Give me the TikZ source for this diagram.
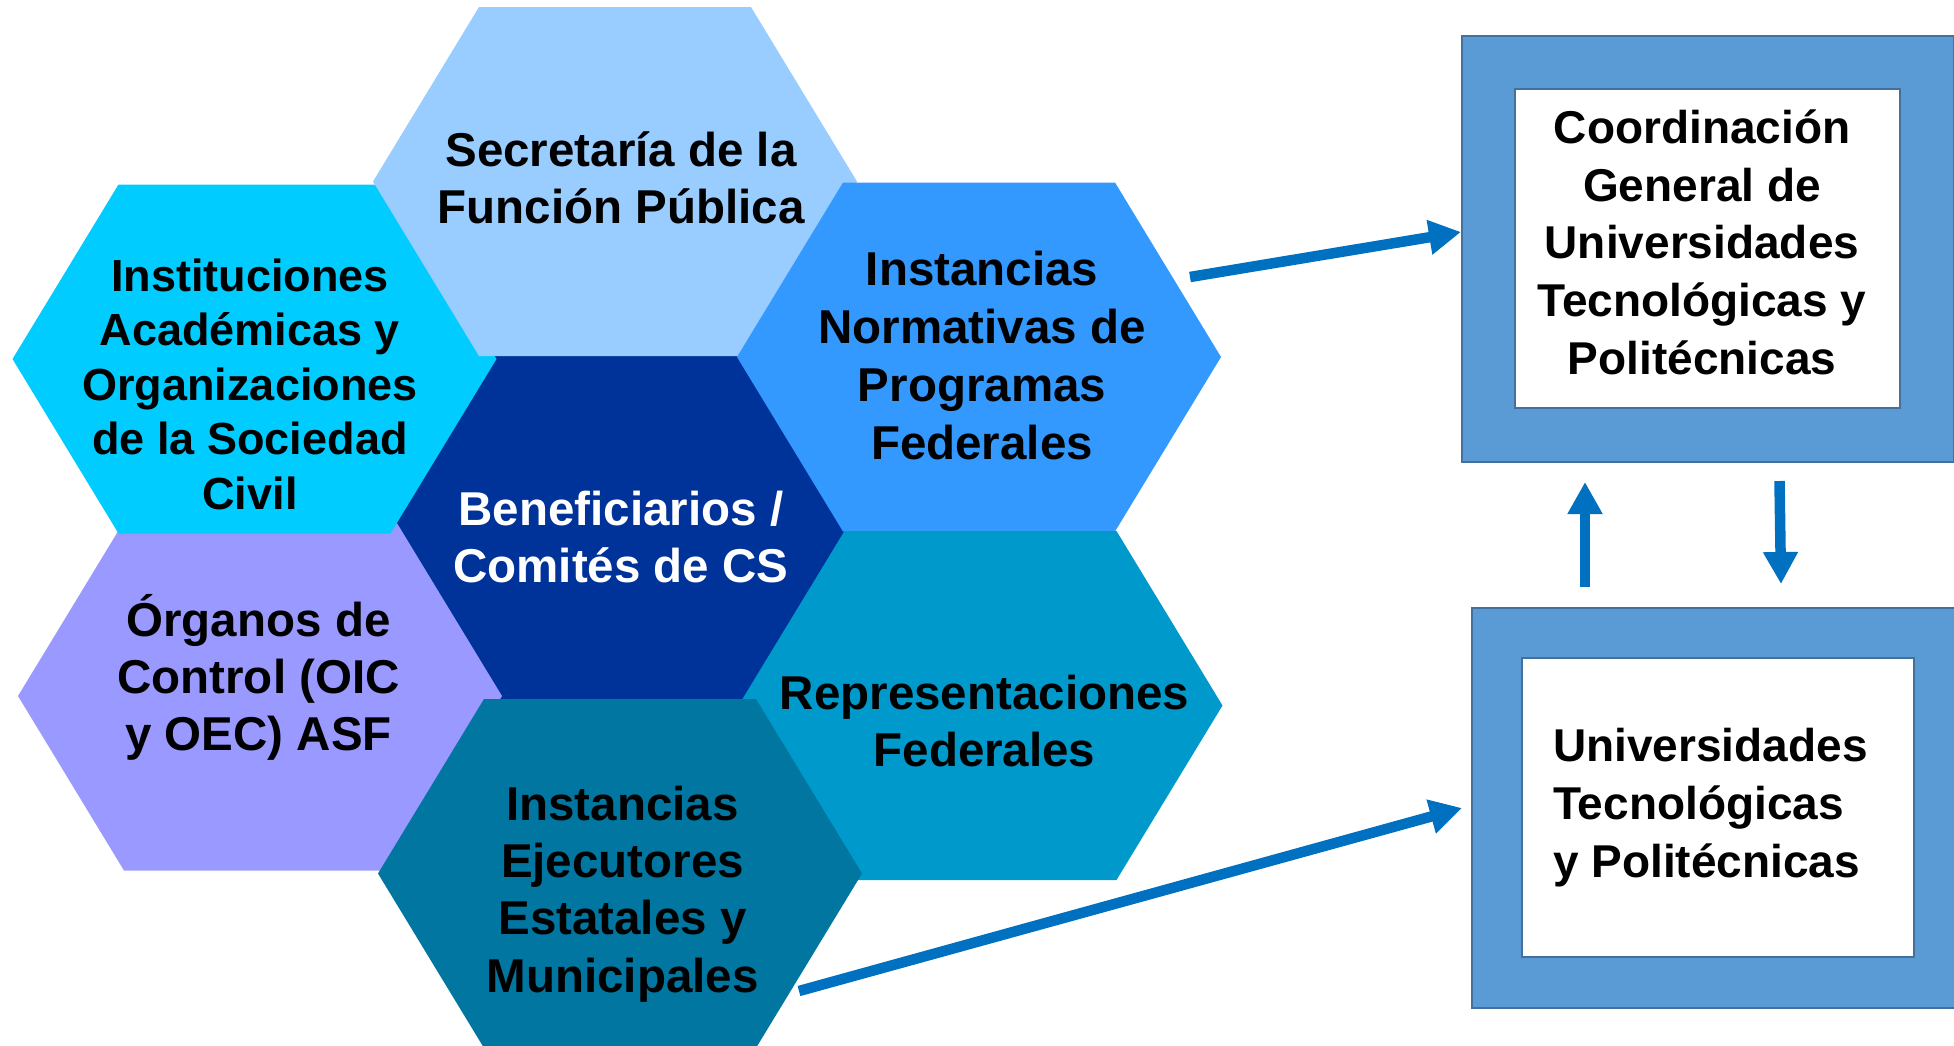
\documentclass[tikz,border=0pt]{standalone}
\usepackage{fontspec}
\setmainfont{Liberation Sans}
\usetikzlibrary{arrows.meta}
\definecolor{csfp}{HTML}{99CCFF}
\definecolor{cinst}{HTML}{00CCFF}
\definecolor{cnorm}{HTML}{3399FF}
\definecolor{cbene}{HTML}{003399}
\definecolor{corg}{HTML}{9999FF}
\definecolor{crep}{HTML}{0099CC}
\definecolor{ceje}{HTML}{0076A0}
\definecolor{cbox}{HTML}{5B9BD5}
\definecolor{cbord}{HTML}{41719C}
\definecolor{carrow}{HTML}{0070C0}
\tikzset{
  hexa/.pic={\path[pic actions] (-242,0) -- (-136,-174.5) -- (136,-174.5) -- (242,0) -- (136,174.5) -- (-136,174.5) -- cycle;},
  hextxt/.style={anchor=base, align=center, inner sep=0pt, font=\fontsize{47.5pt}{57pt}\selectfont\bfseries},
  boxtxt/.style={inner sep=0pt, font=\fontsize{46pt}{57.6pt}\selectfont\bfseries},
  arr/.style={draw=carrow, line width=10.5pt, -{Triangle[length=32pt,width=33pt]}},
  outerbox/.style={draw=cbord, fill=cbox, line width=2pt, inner sep=0pt, anchor=north west},
  innerbox/.style={draw=cbord, fill=white, line width=1.5pt, inner sep=0pt, anchor=north west},
}
\begin{document}
\begin{tikzpicture}[x=1pt,y=-1pt]
\useasboundingbox (0,0) rectangle (1954,1045);
% hexagons (back to front)
\pic (hbene) [fill=cbene] at (617,527) {hexa};
\pic (horg)  [fill=corg]  at (260,696) {hexa};
\pic (hinst) [fill=cinst] at (254.5,359) {hexa};
\pic (hsfp)  [fill=csfp]  at (615,181.5) {hexa};
\pic (hnorm) [fill=cnorm] at (979,357) {hexa};
\pic (hrep)  [fill=crep]  at (980.5,705.5) {hexa};
\pic (heje)  [fill=ceje]  at (620,873.5) {hexa};
% hexagon texts (anchor = baseline of last line)
\node[hextxt] (tsfp) at (621,223) {Secretaría de la\\Función Pública};
\node[hextxt, font=\fontsize{45pt}{54.5pt}\selectfont\bfseries] (tinst) at (250,509) {Instituciones\\Académicas y\\Organizaciones\\de la Sociedad\\Civil};
\node[hextxt, font=\fontsize{47.5pt}{57.7pt}\selectfont\bfseries] (tnorm) at (982,459) {Instancias\\Normativas de\\Programas\\Federales};
\node[hextxt, text=white] (tbene) at (621,582) {Beneficiarios /\\Comités de CS};
\node[hextxt] (torg) at (258.5,750) {Órganos de\\Control (OIC\\y OEC) ASF};
\node[hextxt] (trep) at (984.5,766) {Representaciones\\Federales};
\node[hextxt, font=\fontsize{47.5pt}{57.3pt}\selectfont\bfseries] (teje) at (622.5,992) {Instancias\\Ejecutores\\Estatales y\\Municipales};
% right boxes
\node[outerbox, minimum width=492pt, minimum height=426pt] (cgut) at (1461,35) {};
\node[innerbox, minimum width=385pt, minimum height=319pt] (cguti) at (1514,88) {};
\node[boxtxt, anchor=base, align=center] (tcgut) at (1702,374) {Coordinación\\General de\\Universidades\\Tecnológicas y\\Politécnicas};
\node[outerbox, minimum width=486pt, minimum height=400pt] (ut) at (1471,607) {};
\node[innerbox, minimum width=392pt, minimum height=299pt] (uti) at (1521,657) {};
\node[boxtxt, anchor=base west, align=left] (tut) at (1553,877) {Universidades\\Tecnológicas\\y Politécnicas};
% connectors
\coordinate (a1s) at (1190,277);
\coordinate (a2s) at (799,991);
\coordinate (upS) at (1585,587);
\coordinate (upE) at (1585,482);
\coordinate (dnS) at (1779.5,481);
\coordinate (dnE) at (1781,584);
\draw[arr] (a1s) -- ([yshift=17pt]cgut.west);
\draw[arr] (a2s) -- ([xshift=-9pt]ut.west);
\draw[arr] (upS) -- (upE);
\draw[arr] (dnS) -- (dnE);
\end{tikzpicture}
\end{document}
